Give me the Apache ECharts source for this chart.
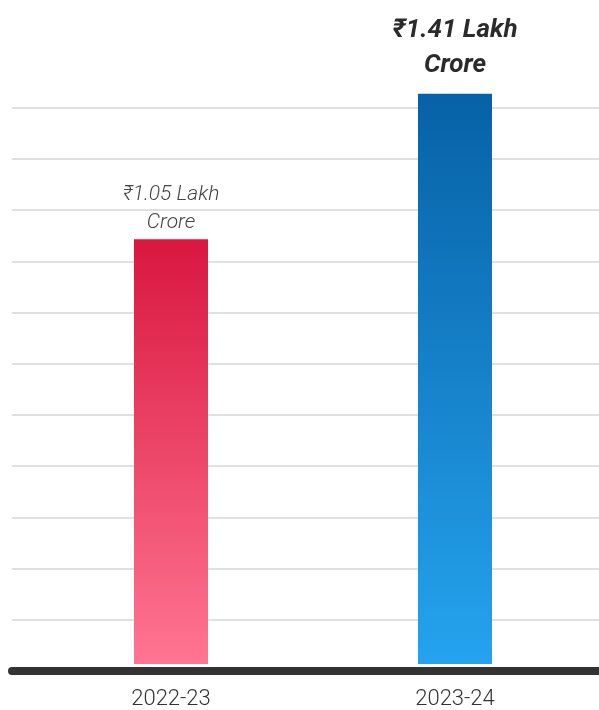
<!DOCTYPE html>
<html>
<head>
<meta charset="utf-8">
<script src="https://cdn.jsdelivr.net/npm/echarts@6/dist/echarts.min.js"></script>
<style>
html, body { margin: 0; padding: 0; background: #fff; }
#chart { width: 599px; height: 710px; }
</style>
</head>
<body>
<div id="chart"></div>
<script>
// data
var years = ['2022-23', '2023-24'];
var revenue = [1.05, 1.41]; // ₹ lakh crore
var valueLabels = ['₹1.05 Lakh\nCrore', '₹1.41 Lakh\nCrore'];
var yMax = 1.375;
var yStep = 0.125;

var myChart = echarts.init(document.getElementById('chart'));

// bar colours / label looks per bar
var gradients = [
    new echarts.graphic.LinearGradient(0, 0, 0, 1, [
        {offset: 0, color: '#d9173f'}, {offset: 1, color: '#ff7592'}
    ]),
    new echarts.graphic.LinearGradient(0, 0, 0, 1, [
        {offset: 0, color: '#0761a6'}, {offset: 1, color: '#25a3ee'}
    ])
];
var labelStyles = [
    {fontSize: 21, fontWeight: 300, lineHeight: 28, color: '#444', distance: 3},
    {fontSize: 26, fontWeight: 'bold', lineHeight: 35, color: '#2b2b2b', distance: 11}
];

var barData = revenue.map(function (v, i) {
    var ls = labelStyles[i];
    return {
        value: v,
        itemStyle: {color: gradients[i]},
        label: {
            show: true,
            position: 'top',
            distance: ls.distance,
            formatter: valueLabels[i],
            fontFamily: 'Roboto',
            fontStyle: 'italic',
            fontSize: ls.fontSize,
            fontWeight: ls.fontWeight,
            lineHeight: ls.lineHeight,
            color: ls.color
        }
    };
});

var option = {
    animation: false,
    backgroundColor: '#fff',
    grid: [
        {left: 12, right: 0, top: 107.8, bottom: 39},   // gridlines + baseline
        {left: 29, right: 2, top: 107.8, bottom: 39}    // bars
    ],
    xAxis: [
        {
            gridIndex: 0, type: 'value', min: 0, max: 1, z: 5,
            axisLine: {show: true, lineStyle: {color: '#333', width: 8}},
            axisTick: {show: false}, axisLabel: {show: false}, splitLine: {show: false}
        },
        {
            gridIndex: 1, type: 'category', data: years,
            axisLine: {show: false}, axisTick: {show: false},
            axisLabel: {
                margin: 24, fontFamily: 'Roboto', fontSize: 22,
                fontWeight: 300, color: '#333'
            }
        }
    ],
    yAxis: [
        {
            gridIndex: 0, type: 'value', min: 0, max: yMax, interval: yStep,
            axisLine: {show: false}, axisTick: {show: false}, axisLabel: {show: false},
            splitLine: {lineStyle: {color: '#d6d6d6', width: 1.5}}
        },
        {
            gridIndex: 1, type: 'value', min: 0, max: yMax, interval: yStep, show: false
        }
    ],
    series: [{
        type: 'bar',
        xAxisIndex: 1,
        yAxisIndex: 1,
        barWidth: 74,
        clip: false,
        data: barData
    }]
};

myChart.setOption(option);
</script>
</body>
</html>
